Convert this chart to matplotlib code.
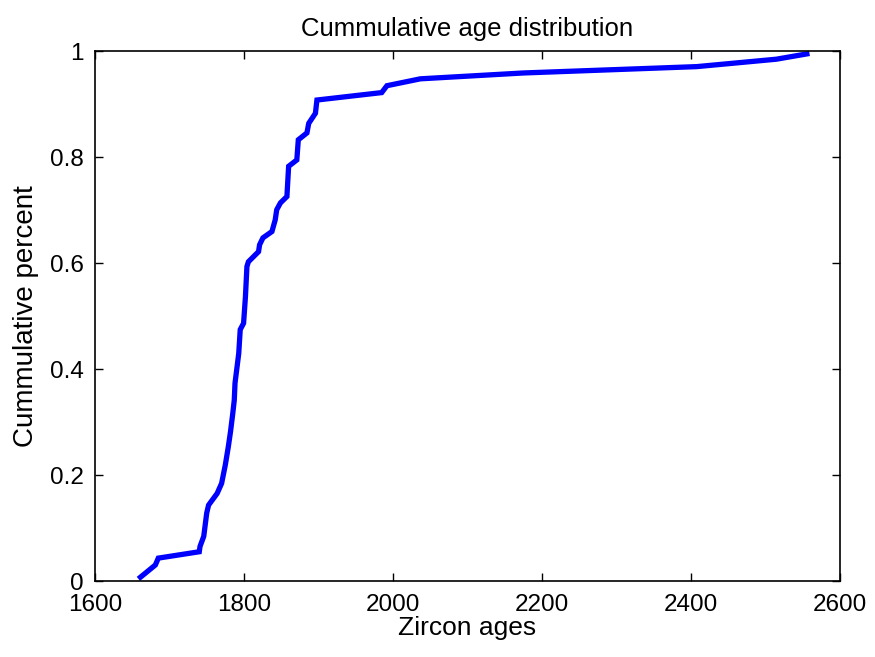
import matplotlib
matplotlib.use('Agg')
import matplotlib.pyplot as plt

# zircon ages and cumulative fraction
ages = [1661, 1681, 1685, 1740, 1741, 1746, 1750, 1752.5, 1764, 1770,
        1775, 1779, 1782, 1785, 1787, 1788, 1793, 1795, 1799.5, 1802,
        1804, 1806, 1819.6, 1821, 1825.5, 1837.6, 1842, 1844, 1849, 1857.7,
        1860, 1871, 1873, 1884.6, 1887, 1896, 1898, 1985, 1992, 2037,
        2175, 2408, 2515, 2556]
cum_pct = [0.008, 0.031, 0.044, 0.056, 0.066, 0.085, 0.129, 0.144, 0.166, 0.185,
           0.220, 0.254, 0.283, 0.317, 0.342, 0.374, 0.430, 0.475, 0.487, 0.537,
           0.594, 0.603, 0.622, 0.635, 0.648, 0.660, 0.682, 0.701, 0.714, 0.726,
           0.783, 0.795, 0.833, 0.846, 0.864, 0.883, 0.908, 0.922, 0.935, 0.948,
           0.959, 0.971, 0.985, 0.995]

xticks = [1600, 1800, 2000, 2200, 2400, 2600]
yticks = [0, 0.2, 0.4, 0.6, 0.8, 1]
ytick_labels = ['0', '0.2', '0.4', '0.6', '0.8', '1']

plt.rcParams['font.family'] = ['Liberation Sans', 'DejaVu Sans']

fig = plt.figure(figsize=(8.75, 6.57), dpi=100)
ax = fig.add_axes([0.1086, 0.115, 0.851, 0.807])

ax.plot(ages, cum_pct, color='#0000ff', linewidth=3.8, solid_joinstyle='miter')

ax.set_xlim(1600, 2600)
ax.set_ylim(0, 1)
ax.set_xticks(xticks)
ax.set_yticks(yticks)
ax.set_yticklabels(ytick_labels)
ax.tick_params(direction='in', top=True, right=True, length=6, width=1,
               labelsize=17.5)
ax.tick_params(axis='x', pad=9)
ax.tick_params(axis='y', pad=8)
for s in ax.spines.values():
    s.set_linewidth(1.2)

ax.set_xlabel('Zircon ages', fontsize=19, labelpad=0)
ax.set_ylabel('Cummulative percent', fontsize=20, labelpad=8)
ax.set_title('Cummulative age distribution', fontsize=18.5, pad=11)

plt.savefig('out.png', dpi=100)
